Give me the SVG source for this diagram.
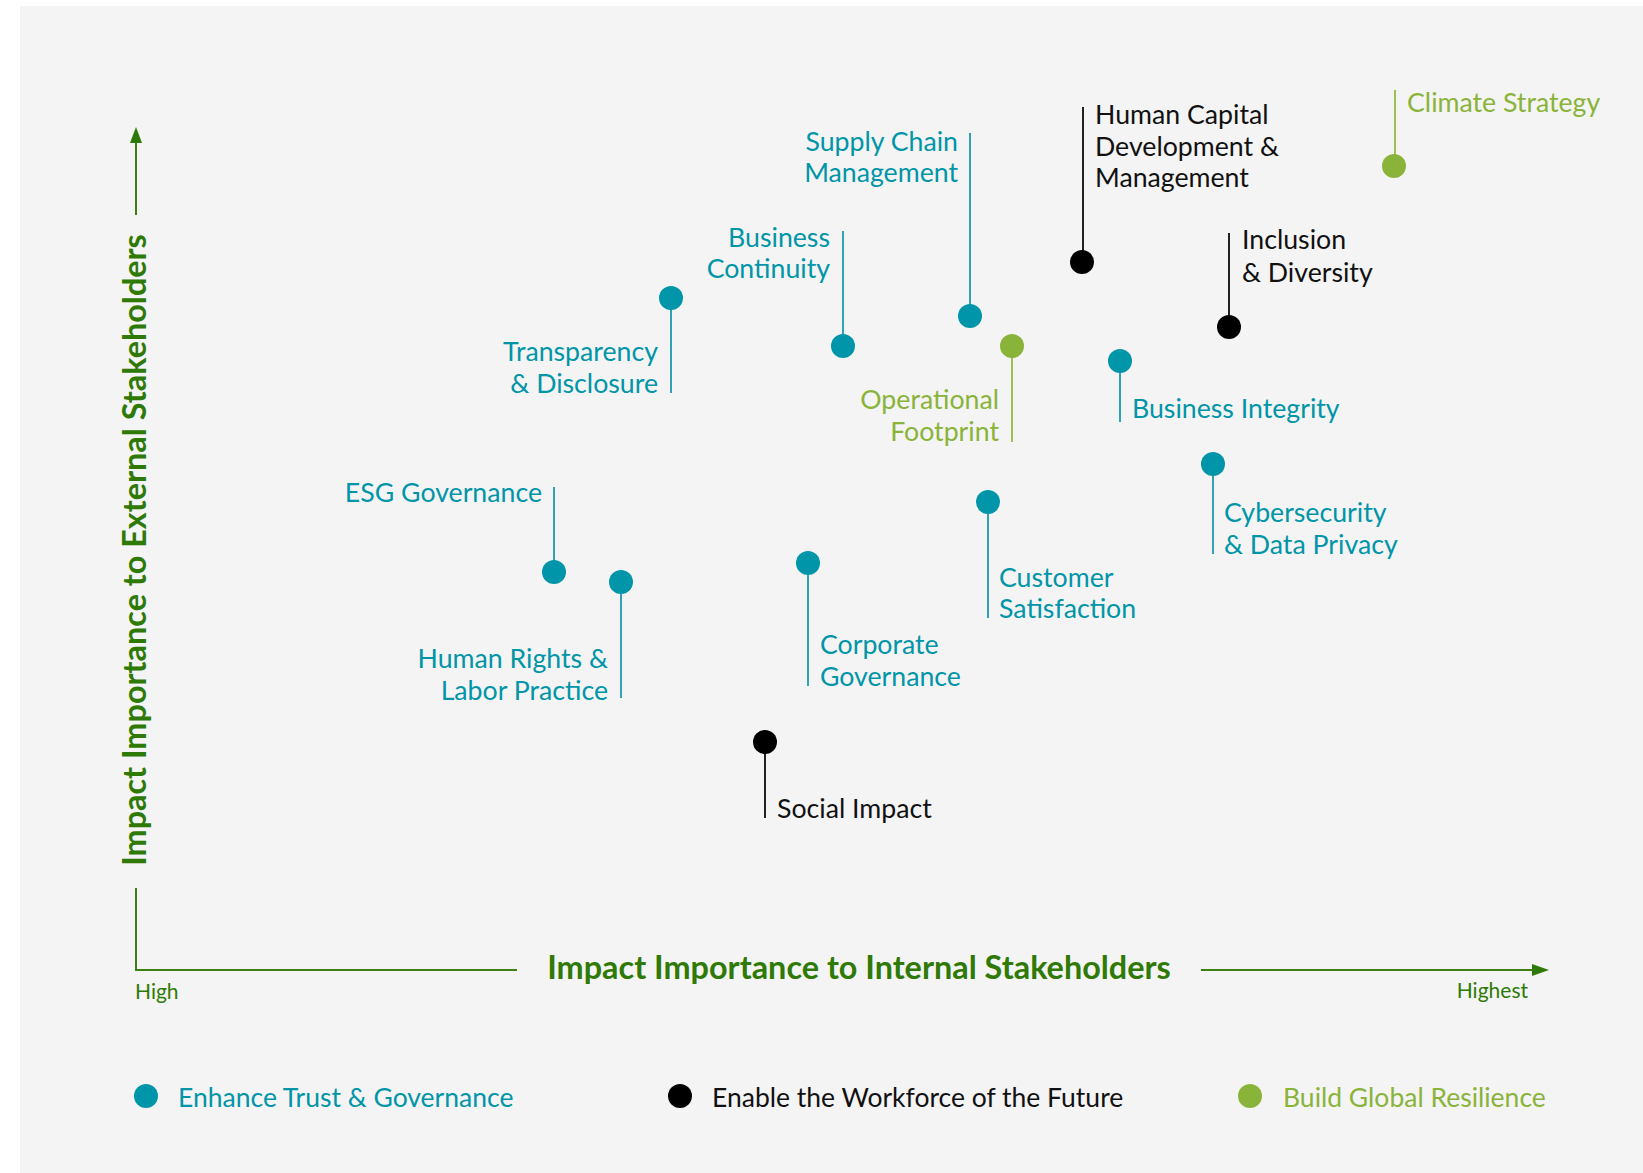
<svg xmlns="http://www.w3.org/2000/svg" width="1643" height="1173" viewBox="0 0 1643 1173">
<style>
text{font-family:Lato,"Liberation Sans",sans-serif;font-size:26.7px}
.t{fill:#0095a8}.k{fill:#111111}.g{fill:#8ab33a}
.dt{fill:#0095a8}.dk{fill:#000000}.dg{fill:#8ab33a}
.lt{stroke:#2fa3b3;stroke-width:2}.lk{stroke:#222222;stroke-width:2}.lg{stroke:#9bc155;stroke-width:2}
.ax{stroke:#3d7f14;stroke-width:2;fill:none}
.axl{fill:#2f7a06;font-weight:bold;font-size:32.4px}
.sm{fill:#2f7a06;font-size:21px}
.lgd{font-size:26.5px}
</style>
<rect x="0" y="0" width="1643" height="1173" fill="#ffffff"/>
<rect x="20" y="6" width="1623" height="1167" fill="#f4f4f4"/>
<g id="axes">
<line class="ax" x1="136" y1="141" x2="136" y2="215"/>
<polygon points="136,127 130,143 142,143" fill="#2f7a06"/>
<line class="ax" x1="136" y1="888" x2="136" y2="970"/>
<line class="ax" x1="135" y1="970" x2="517" y2="970"/>
<line class="ax" x1="1201" y1="970" x2="1534" y2="970"/>
<polygon points="1549,970 1532,964 1532,976" fill="#2f7a06"/>
<text class="axl" x="859" y="979" text-anchor="middle">Impact Importance to Internal Stakeholders</text>
<text class="axl" transform="translate(146,550) rotate(-90)" text-anchor="middle">Impact Importance to External Stakeholders</text>
<text class="sm" x="135" y="999">High</text>
<text class="sm" x="1528" y="998" text-anchor="end">Highest</text>
</g>
<g id="connectors">
<line class="lg" x1="1395" y1="90" x2="1395" y2="160"/>
<line class="lk" x1="1083" y1="107" x2="1083" y2="256"/>
<line class="lt" x1="970" y1="133" x2="970" y2="310"/>
<line class="lt" x1="843" y1="231" x2="843" y2="340"/>
<line class="lk" x1="1229" y1="233" x2="1229" y2="321"/>
<line class="lt" x1="671" y1="304" x2="671" y2="393"/>
<line class="lg" x1="1012" y1="352" x2="1012" y2="442"/>
<line class="lt" x1="1120" y1="367" x2="1120" y2="422"/>
<line class="lt" x1="1213" y1="470" x2="1213" y2="554"/>
<line class="lt" x1="988" y1="508" x2="988" y2="618"/>
<line class="lt" x1="554" y1="487" x2="554" y2="566"/>
<line class="lt" x1="621" y1="588" x2="621" y2="698"/>
<line class="lt" x1="808" y1="569" x2="808" y2="686"/>
<line class="lk" x1="765" y1="748" x2="765" y2="818"/>
</g>
<g id="climate-strategy"><circle class="dg" cx="1394" cy="166" r="12"/><text class="g" x="1407" y="112">Climate Strategy</text></g>
<g id="human-capital"><circle class="dk" cx="1082" cy="262" r="12"/><text class="k" x="1095" y="124">Human Capital</text><text class="k" x="1095" y="156">Development &amp;</text><text class="k" x="1095" y="187">Management</text></g>
<g id="supply-chain"><circle class="dt" cx="970" cy="316" r="12"/><text class="t" x="958" y="151" text-anchor="end">Supply Chain</text><text class="t" x="958" y="182" text-anchor="end">Management</text></g>
<g id="business-continuity"><circle class="dt" cx="843" cy="346" r="12"/><text class="t" x="830" y="247" text-anchor="end">Business</text><text class="t" x="830" y="278" text-anchor="end">Continuity</text></g>
<g id="inclusion-diversity"><circle class="dk" cx="1229" cy="327" r="12"/><text class="k" x="1242" y="249">Inclusion</text><text class="k" x="1242" y="282">&amp; Diversity</text></g>
<g id="transparency"><circle class="dt" cx="671" cy="298" r="12"/><text class="t" x="658" y="361" text-anchor="end">Transparency</text><text class="t" x="658" y="393" text-anchor="end">&amp; Disclosure</text></g>
<g id="operational-footprint"><circle class="dg" cx="1012" cy="346" r="12"/><text class="g" x="999" y="409" text-anchor="end">Operational</text><text class="g" x="999" y="441" text-anchor="end">Footprint</text></g>
<g id="business-integrity"><circle class="dt" cx="1120" cy="361" r="12"/><text class="t" x="1132" y="418">Business Integrity</text></g>
<g id="cybersecurity"><circle class="dt" cx="1213" cy="464" r="12"/><text class="t" x="1224" y="522">Cybersecurity</text><text class="t" x="1224" y="554">&amp; Data Privacy</text></g>
<g id="customer-satisfaction"><circle class="dt" cx="988" cy="502" r="12"/><text class="t" x="999" y="587">Customer</text><text class="t" x="999" y="618">Satisfaction</text></g>
<g id="esg-governance"><circle class="dt" cx="554" cy="572" r="12"/><text class="t" x="542" y="502" text-anchor="end">ESG Governance</text></g>
<g id="human-rights"><circle class="dt" cx="621" cy="582" r="12"/><text class="t" x="608" y="668" text-anchor="end">Human Rights &amp;</text><text class="t" x="608" y="700" text-anchor="end">Labor Practice</text></g>
<g id="corporate-governance"><circle class="dt" cx="808" cy="563" r="12"/><text class="t" x="820" y="654">Corporate</text><text class="t" x="820" y="686">Governance</text></g>
<g id="social-impact"><circle class="dk" cx="765" cy="742" r="12"/><text class="k" x="777" y="818">Social Impact</text></g>
<g id="legend">
<circle class="dt" cx="146" cy="1096" r="12"/><text class="t lgd" x="178" y="1107">Enhance Trust &amp; Governance</text>
<circle class="dk" cx="680" cy="1096" r="12"/><text class="k lgd" x="712" y="1107">Enable the Workforce of the Future</text>
<circle class="dg" cx="1250" cy="1096" r="12"/><text class="g lgd" x="1283" y="1107">Build Global Resilience</text>
</g>
</svg>
